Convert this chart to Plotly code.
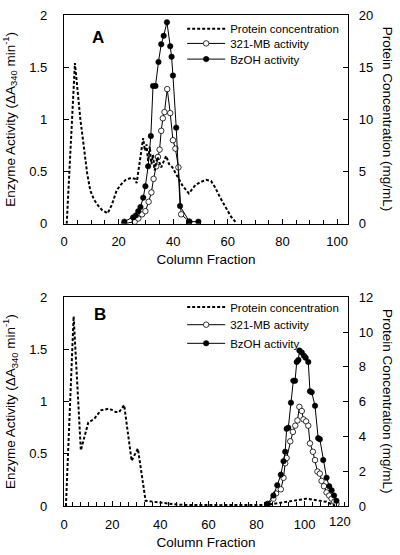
import plotly.graph_objects as go

# ---------------- Panel A data ----------------
a_prot_frac = [1, 4, 6, 7.2, 8.5, 9.6, 11, 12.6, 14, 16, 17.5, 19.3, 21, 22.6, 24.7, 26, 26.6, 29.0, 29.6, 30.2,
               30.8, 31.4, 32.0, 32.6, 33.2, 34.2, 35.6, 37.4, 38.5, 39.7, 41.5, 43.3, 45.7, 48.1, 50.0,
               52.0, 53.8, 55.3, 57.2, 59.2, 61.1, 63.0]
a_prot_conc = [0, 15.4, 10.0, 7.3, 4.8, 3.2, 2.3, 1.7, 1.3, 1.0, 1.8, 3.2, 3.8, 4.2, 4.4, 4.3, 3.9, 8.2, 7.0, 7.6,
               6.0, 7.4, 5.7, 6.6, 5.1, 6.4, 5.4, 6.5, 5.7, 5.4, 4.5, 3.7, 2.9, 3.7, 4.0,
               4.2, 4.1, 3.5, 2.5, 1.5, 0.7, 0.1]

a_mb_frac = [22.0, 25.9, 27.2, 28.6, 29.8, 31.0, 32.0, 32.8, 33.8, 34.4, 35.0, 35.6, 36.2, 36.8, 37.8,
             38.9, 39.9, 40.8, 41.9, 42.9, 45.9]
a_mb_act = [0.00, 0.02, 0.05, 0.09, 0.12, 0.21, 0.30, 0.43, 0.55, 0.64, 0.71, 0.89, 1.01, 1.07, 1.29,
            1.06, 0.80, 0.72, 0.54, 0.09, 0.02]

a_bz_frac = [22.1, 25.3, 26.3, 27.2, 28.0, 29.0, 29.8, 30.8, 31.8, 32.6, 33.5, 34.6, 35.6, 36.5, 37.7,
             38.9, 39.4, 39.9, 41.1, 42.5, 45.9, 49.2]
a_bz_act = [0.02, 0.06, 0.08, 0.12, 0.16, 0.25, 0.36, 0.55, 0.84, 1.32, 1.32, 1.55, 1.72, 1.80, 1.93,
            1.70, 1.60, 1.42, 0.92, 0.17, 0.02, 0.02]

# ---------------- Panel B data ----------------
b_prot_frac = [0.8, 4.0, 7.0, 10.1, 12.5, 15.3, 18.8, 21.5, 22.9, 25.0, 28.1, 30.7, 33.9, 37.4, 42.9,
               47, 51, 55, 60, 65, 70, 75, 80, 84.3, 88, 92, 95, 98, 100.8, 104, 107, 109, 112.6]
b_prot_conc = [0, 10.9, 3.2, 4.8, 5.0, 5.5, 5.6, 5.4, 5.4, 5.8, 2.6, 3.3, 0.3, 0.24, 0.12,
               0.08, 0.06, 0.05, 0.07, 0.05, 0.06, 0.05, 0.08, 0.06, 0.15, 0.22, 0.28, 0.36, 0.42, 0.36, 0.3, 0.24, 0.02]

b_mb_frac = [84.7, 87.0, 88.1, 90.1, 91.2, 91.9, 92.5, 94.0, 95.1, 96.1, 97.0, 97.8, 98.8, 99.5, 100.6,
             101.5, 102.2, 103.4, 104.3, 105.3, 106.3, 107.0, 108.0, 109.1, 110.2, 111.2, 112.3, 113.2]
b_mb_act = [0.02, 0.07, 0.12, 0.16, 0.27, 0.41, 0.46, 0.62, 0.71, 0.77, 0.82, 0.95, 0.91, 0.83, 0.81,
            0.77, 0.60, 0.52, 0.44, 0.33, 0.31, 0.24, 0.19, 0.13, 0.10, 0.07, 0.04, 0.02]

b_bz_frac = [84.5, 87.0, 88.6, 90.1, 91.2, 91.9, 92.5, 93.2, 94.3, 95.3, 96.0, 96.7, 97.4, 97.8, 98.8,
             99.7, 100.4, 101.5, 102.2, 102.9, 104.3, 105.6, 106.3, 107.7, 109.1, 110.2, 111.2, 112.2, 113.2]
b_bz_act = [0.02, 0.10, 0.20, 0.30, 0.43, 0.52, 0.74, 0.75, 0.99, 1.20, 1.20, 1.38, 1.40, 1.49, 1.47,
            1.44, 1.42, 1.38, 1.10, 1.09, 0.96, 0.65, 0.64, 0.44, 0.27, 0.19, 0.15, 0.10, 0.05]

legend_names = ["Protein concentration", "321-MB activity", "BzOH activity"]

FONT = "Liberation Sans, Arial, Helvetica, sans-serif"
BLK = "black"

W, H = 400, 555
ML, MR, MT, MB = 62, 52, 8, 46
PH = H - MT - MB  # 501
PW = W - ML - MR  # 286

fig = go.Figure()

def add_panel(prot_x, prot_y, mb_x, mb_y, bz_x, bz_y, xa, ya, ya2, legs):
    fig.add_trace(go.Scatter(x=prot_x, y=prot_y, mode="lines", name=legend_names[0],
                             line=dict(color=BLK, width=2, dash="3px,2px"),
                             xaxis=xa, yaxis=ya2, legend=legs[0]))
    fig.add_trace(go.Scatter(x=mb_x, y=mb_y, mode="lines+markers", name=legend_names[1],
                             line=dict(color=BLK, width=1),
                             marker=dict(symbol="circle", size=5.5, color="white",
                                         line=dict(color=BLK, width=0.8)),
                             xaxis=xa, yaxis=ya, legend=legs[1]))
    fig.add_trace(go.Scatter(x=bz_x, y=bz_y, mode="lines+markers", name=legend_names[2],
                             line=dict(color=BLK, width=1),
                             marker=dict(symbol="circle", size=5.5, color=BLK,
                                         line=dict(color=BLK, width=0.5)),
                             xaxis=xa, yaxis=ya, legend=legs[2]))

add_panel(a_prot_frac, a_prot_conc, a_mb_frac, a_mb_act, a_bz_frac, a_bz_act, "x", "y", "y2",
          ["legend", "legend2", "legend3"])
add_panel(b_prot_frac, b_prot_conc, b_mb_frac, b_mb_act, b_bz_frac, b_bz_act, "x2", "y3", "y4",
          ["legend4", "legend5", "legend6"])

tickfont = dict(family=FONT, size=13, color=BLK)
titlefont = dict(family=FONT, size=13.5, color=BLK)

TOP_DOM = [0.5749, 1.0]
BOT_DOM = [0.0, 0.4251]

common_x = dict(showline=True, linecolor=BLK, linewidth=1.3, mirror=True, ticks="inside",
                ticklen=5, tickcolor=BLK, tickfont=tickfont, showgrid=False, zeroline=False,
                ticklabelstandoff=6)
common_y = dict(showline=True, linecolor=BLK, linewidth=1.3, ticks="inside", ticklen=5,
                tickcolor=BLK, tickfont=tickfont, showgrid=False, zeroline=False)

ytitle = "Enzyme Activity (ΔA<sub>340</sub> min<sup>-1</sup>)"

def py(screen_y):
    return (H - MB - screen_y) / PH

def px(screen_x):
    return (screen_x - ML) / PW

def leg(screen_y):
    return dict(x=px(181), y=py(screen_y), xanchor="left", yanchor="middle",
                bgcolor="rgba(0,0,0,0)", font=dict(family=FONT, size=11.5, color=BLK),
                itemwidth=38, borderwidth=0)

fig.update_layout(
    width=W, height=H,
    margin=dict(l=ML, r=MR, t=MT, b=MB),
    paper_bgcolor="white", plot_bgcolor="white",
    font=dict(family=FONT, color=BLK),
    xaxis=dict(domain=[0, 1], anchor="y", range=[0, 104], tickvals=[0, 20, 40, 60, 80, 100],
               minor=dict(dtick=5, tick0=0, ticks="inside", ticklen=4, tickcolor=BLK),
               title=dict(text="Column Fraction", font=titlefont, standoff=6), **common_x),
    yaxis=dict(domain=TOP_DOM, anchor="x", range=[0, 2], tickvals=[0, 0.5, 1, 1.5, 2],
               ticktext=["0", "0.5", "1", "1.5", "2"], ticklabelstandoff=13,
               title=dict(text=ytitle, font=titlefont, standoff=12), **common_y),
    yaxis2=dict(domain=TOP_DOM, anchor="x", overlaying="y", side="right", range=[0, 20],
                tickvals=[0, 5, 10, 15, 20], ticklabelstandoff=7, **common_y),
    xaxis2=dict(domain=[0, 1], anchor="y3", range=[0, 118], tickvals=[0, 20, 40, 60, 80, 100],
                minor=dict(dtick=10/3, tick0=0, ticks="inside", ticklen=4, tickcolor=BLK),
                title=dict(text="Column Fraction", font=titlefont, standoff=6), **common_x),
    yaxis3=dict(domain=BOT_DOM, anchor="x2", range=[0, 2], tickvals=[0, 0.5, 1, 1.5, 2],
                ticktext=["0", "0.5", "1", "1.5", "2"], ticklabelstandoff=13,
                title=dict(text=ytitle, font=titlefont, standoff=12), **common_y),
    yaxis4=dict(domain=BOT_DOM, anchor="x2", overlaying="y3", side="right", range=[0, 12],
                tickvals=[0, 2, 4, 6, 8, 10, 12], ticklabelstandoff=7, **common_y),
    legend=leg(22), legend2=leg(37), legend3=leg(53),
    legend4=leg(306), legend5=leg(324), legend6=leg(343),
    showlegend=True,
)

ann = [
    dict(text="<b>A</b>", x=px(96), y=py(31), xref="paper", yref="paper", showarrow=False,
         xanchor="center", yanchor="middle", font=dict(family=FONT, size=17, color=BLK)),
    dict(text="<b>B</b>", x=px(98), y=py(314), xref="paper", yref="paper", showarrow=False,
         xanchor="center", yanchor="middle", font=dict(family=FONT, size=17, color=BLK)),
    dict(text="Protein Concentration (mg/mL)", textangle=90, x=px(388),
         y=(TOP_DOM[0] + TOP_DOM[1]) / 2, xref="paper", yref="paper", showarrow=False,
         xanchor="center", yanchor="middle", font=titlefont),
    dict(text="Protein Concentration (mg/mL)", textangle=90, x=px(388),
         y=(BOT_DOM[0] + BOT_DOM[1]) / 2, xref="paper", yref="paper", showarrow=False,
         xanchor="center", yanchor="middle", font=titlefont),
    dict(text="120", x=(120 / 118), y=0, xref="paper", yref="paper", yanchor="top", yshift=-6,
         showarrow=False, font=tickfont),
]
fig.update_layout(annotations=ann)

# remove the browser's default 8px page margin so the figure sits at the window's corner
fig.write_html("out.html", config={"displayModeBar": False},
               post_script="document.body.style.margin='0';document.body.style.padding='0';")
